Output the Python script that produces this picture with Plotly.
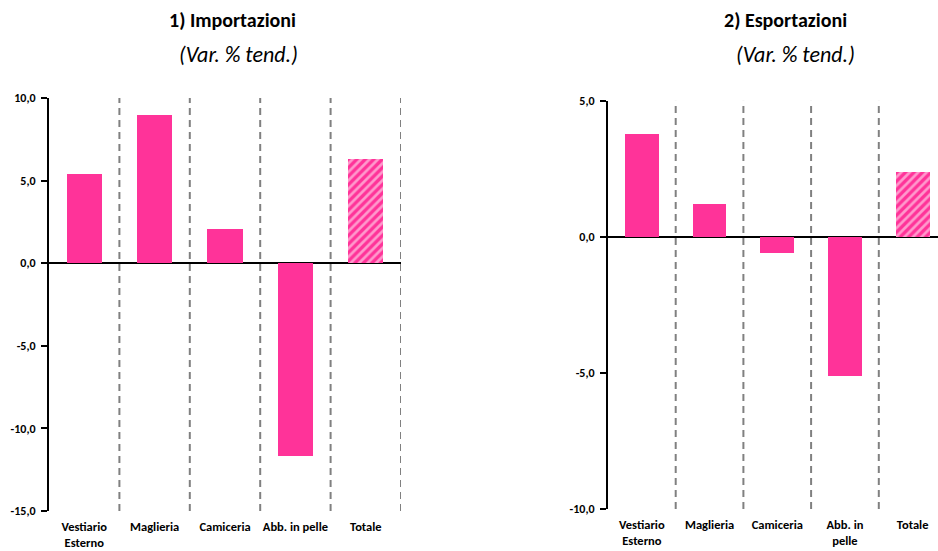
import plotly.graph_objects as go

categories_imp = ["Vestiario<br>Esterno", "Maglieria", "Camiceria", "Abb. in pelle", "Totale"]
values_imp = [5.4, 9.0, 2.1, -11.7, 6.3]
categories_exp = ["Vestiario<br>Esterno", "Maglieria", "Camiceria", "Abb. in<br>pelle", "Totale"]
values_exp = [3.8, 1.2, -0.6, -5.1, 2.4]
yticks_imp = [10, 5, 0, -5, -10, -15]
yticks_exp = [5, 0, -5, -10]
patterns = ["", "", "", "", "/"]

W, H = 938, 551
PINK = "#FF3399"
FONT = "Carlito, Calibri, Lato, sans-serif"

def px_x(p):
    return p / W

def px_y(p):
    return (H - p) / H

fig = go.Figure()

fig.add_trace(go.Bar(
    x=list(range(len(values_imp))), y=values_imp, width=0.5,
    marker=dict(color=PINK, line=dict(width=0),
                pattern=dict(shape=patterns, fgcolor="white", bgcolor=PINK,
                             size=6, solidity=0.45)),
    xaxis="x", yaxis="y", showlegend=False, hoverinfo="skip"))

fig.add_trace(go.Bar(
    x=list(range(len(values_exp))), y=values_exp, width=0.5,
    marker=dict(color=PINK, line=dict(width=0),
                pattern=dict(shape=patterns, fgcolor="white", bgcolor=PINK,
                             size=6, solidity=0.45)),
    xaxis="x2", yaxis="y2", showlegend=False, hoverinfo="skip"))

ytickfont = dict(family=FONT, size=12, color="black")
xtickfont = dict(family=FONT, size=12.5, color="black")

# right-hand panel is cut at the page edge
right_left, right_cat_w = 608, 67.7
right_end = 4.5 - ((right_left + 5 * right_cat_w) - W) / right_cat_w

def xaxis_cfg(domain, rng, anchor, cats):
    return dict(domain=domain, range=rng, anchor=anchor, automargin=False,
                tickmode="array", tickvals=list(range(len(cats))),
                ticktext=[f"<b>{c}</b>" for c in cats],
                tickfont=xtickfont, showgrid=False, zeroline=False, showline=False,
                ticks="", ticklabelstandoff=6)

def yaxis_cfg(domain, rng, anchor, ticks):
    return dict(domain=domain, range=rng, anchor=anchor, automargin=False,
                tickmode="array", tickvals=ticks,
                ticktext=[f"<b>{v:.1f}</b>".replace(".", ",") for v in ticks],
                tickfont=ytickfont, showgrid=False,
                zeroline=True, zerolinecolor="black", zerolinewidth=2,
                showline=True, linecolor="black", linewidth=2,
                ticks="outside", ticklen=6, tickwidth=2, tickcolor="black",
                ticklabelstandoff=3)

fig.update_layout(
    width=W, height=H,
    margin=dict(l=0, r=0, t=0, b=0, autoexpand=False),
    paper_bgcolor="white", plot_bgcolor="white",
    separators=",.",
    bargap=0,
    xaxis=xaxis_cfg([px_x(49), px_x(401)], [-0.5, 4.5], "y", categories_imp),
    yaxis=yaxis_cfg([px_y(511), px_y(98)], [-15, 10], "x", yticks_imp),
    xaxis2=xaxis_cfg([px_x(right_left), 1], [-0.5, right_end], "y2", categories_exp),
    yaxis2=yaxis_cfg([px_y(509), px_y(100.7)], [-10, 5], "x2", yticks_exp),
)

shapes = []
for i in range(len(categories_imp)):
    shapes.append(dict(type="line", xref="x", yref="y", x0=i + 0.5, x1=i + 0.5,
                       y0=-15, y1=10, layer="below",
                       line=dict(color="#808080", width=2, dash="7px,5px")))
for i in range(len(categories_exp)):
    shapes.append(dict(type="line", xref="x2", yref="y2", x0=i + 0.5, x1=i + 0.5,
                       y0=-10, y1=5, layer="below",
                       line=dict(color="#808080", width=2, dash="7px,5px")))
fig.update_layout(shapes=shapes)

annotations = [
    dict(text="<b>1) Importazioni</b>", x=px_x(232), y=px_y(20), size=20),
    dict(text="<i>(Var. % tend.)</i>", x=px_x(238), y=px_y(55), size=22),
    dict(text="<b>2) Esportazioni</b>", x=px_x(785), y=px_y(20), size=20),
    dict(text="<i>(Var. % tend.)</i>", x=px_x(795), y=px_y(55), size=22),
]
for a in annotations:
    sz = a.pop("size")
    a.update(xref="paper", yref="paper", showarrow=False, xanchor="center",
             yanchor="middle", font=dict(family=FONT, size=sz, color="black"))
fig.update_layout(annotations=annotations)

fig.write_html("out.html")
